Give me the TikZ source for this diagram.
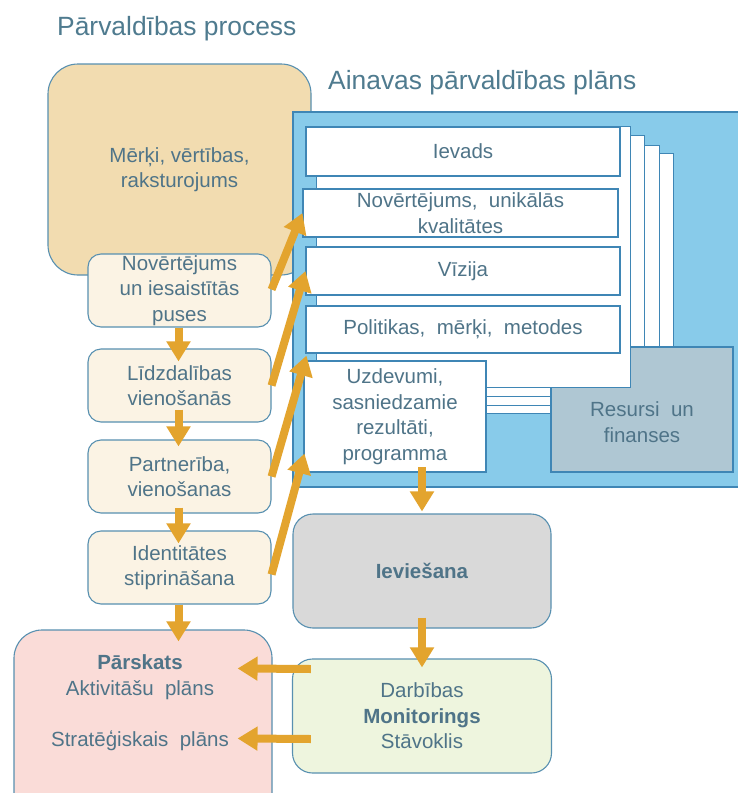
\documentclass[tikz,border=0pt]{standalone}
\usepackage{fontspec}
\setmainfont{Liberation Sans}
\usetikzlibrary{arrows.meta,calc}
\definecolor{txt}{HTML}{4F7488}
\definecolor{ttl}{HTML}{4F7B8F}
\definecolor{bord}{HTML}{5890B0}
\definecolor{bordb}{HTML}{3F86B5}
\definecolor{bluef}{HTML}{88CBEA}
\definecolor{tanf}{HTML}{F2DCB0}
\definecolor{creamf}{HTML}{FBF3E4}
\definecolor{grayf}{HTML}{D9D9D9}
\definecolor{greenf}{HTML}{EEF5DE}
\definecolor{pinkf}{HTML}{FADCD8}
\definecolor{resf}{HTML}{AFC7D3}
\definecolor{orng}{HTML}{E3A42E}
\newcommand\bodyfs{\fontsize{20.5}{25.5}\selectfont}
\newcommand\titlefs{\fontsize{26.4}{30}\selectfont}
\begin{document}
\begin{tikzpicture}[x=1pt,y=-1pt,
  txtc/.style={text=txt, font=\bodyfs, align=center, inner sep=0pt},
  rbox/.style={draw=bord, line width=1.1pt, rounded corners=#1, txtc},
  rbox/.default=12pt,
  lbox/.style={rbox=13pt, fill=creamf, minimum width=183pt, minimum height=73pt},
  sect/.style={draw=bordb, fill=white, line width=1.1pt, txtc},
  pagebox/.style={draw=bordb, fill=white, line width=0.8pt},
  arr/.style={draw=orng, line width=8pt, -{Triangle[width=23pt,length=20pt]}},
  ttlc/.style={text=ttl, font=\titlefs, inner sep=0pt, anchor=base west}
]
\useasboundingbox (0,0) rectangle (737,793);
\fill[white] (0,0) rectangle (737,793);

% titles
\node[ttlc] (title1) at (57,35) {Pārvaldības process};
\node[ttlc] (title2) at (328,89) {Ainavas pārvaldības plāns};

% goals box
\node[rbox=30pt, fill=tanf, minimum width=263pt, minimum height=211pt] (goals) at (179.5,169.5) {Mērķi, vērtības,\\raksturojums};

% blue plan panel
\node[draw=bordb, fill=bluef, line width=1.2pt, minimum width=450pt, minimum height=375pt, inner sep=0pt] (plan) at (518,299.5) {};

% back pages
\draw[pagebox] (328,153) rectangle (673,413);
\draw[pagebox] (324,145) rectangle (659,405);
\draw[pagebox] (320,135) rectangle (644,396);

% resources
\node[draw=bordb, fill=resf, line width=1.1pt, minimum width=182pt, minimum height=125pt, inner sep=0pt] (res) at (642,409.5) {};
\node[txtc] (restxt) at (642,422) {Resursi\ \ un\\finanses};

% main page
\draw[pagebox] (316,126) rectangle (630,387);

% sections
\node[sect, minimum width=314pt, minimum height=49pt] (intro) at (463,151.5) {Ievads};
\node[sect, minimum width=315pt, minimum height=48pt] (assess) at (460.5,213) {Novērtējums,\ \ unikālās\\kvalitātes};
\node[sect, minimum width=314pt, minimum height=48pt] (vision) at (463,271) {Vīzija};
\node[sect, minimum width=314pt, minimum height=47pt] (policy) at (463,329.5) {Politikas,\ \ mērķi,\ \ metodes};
\node[sect, minimum width=182pt, minimum height=111pt] (tasks) at (395,416.5) {Uzdevumi,\\sasniedzamie\\rezultāti,\\programma};

% left process boxes
\node[lbox] (s1) at (179.5,290.5) {Novērtējums\\un iesaistītās\\puses};
\node[lbox] (s2) at (179.5,385.5) {Līdzdalības\\vienošanās};
\node[lbox] (s3) at (179.5,476.5) {Partnerība,\\vienošanas};
\node[lbox] (s4) at (179.5,567.5) {Identitātes\\stiprināšana};

% implementation & monitoring
\node[rbox=20pt, fill=grayf, minimum width=258pt, minimum height=114pt] (impl) at (422,571) {\textbf{Ieviešana}};
\node[rbox=20pt, fill=greenf, minimum width=259pt, minimum height=114pt] (mon) at (422,716) {Darbības\\\textbf{Monitorings}\\Stāvoklis};

% review
\node[rbox=28pt, fill=pinkf, minimum width=258pt, minimum height=230pt] (rev) at (143,745) {};
\node[txtc] (revt1) at (140,677) {\textbf{Pārskats}\\Aktivitāšu\ \ plāns};
\node[txtc] (revt2) at (140,741) {Stratēģiskais\ \ plāns};

% down arrows on the left
\draw[arr] ($(s1.south)+(-1,0)$) -- ($(s2.north)+(-1,13)$);
\draw[arr] ($(s2.south)+(-1,-13)$) -- ($(s3.north)+(-1,7)$);
\draw[arr] ($(s3.south)+(-1,-6)$) -- ($(s4.north)+(-1,13)$);
\draw[arr] ($(s4.south)+(-1,0)$) -- ($(s4.south |- rev.north)+(-1,12)$);

% diagonal arrows
\draw[arr] ($(s1.east)+(0,-1)$) -- (assess.west);
\draw[arr] (s2.east) -- (vision.west);
\draw[arr] (s3.east) -- ($(policy.south west)+(1,2)$);
\draw[arr] ($(s4.east)+(0,7)$) -- ($(tasks.west)+(1,37)$);

% implementation chain
\draw[arr] ($(impl.north)+(0,-46)$) -- ($(impl.north)+(0,-2)$);
\draw[arr] ($(impl.south)+(0,-11)$) -- ($(mon.north)+(0,9)$);

% monitoring to review
\draw[arr] ($(mon.west)+(19,-47)$) -- ($(rev.north east)+(-35,39)$);
\draw[arr] ($(mon.west)+(19,23)$) -- ($(rev.north east)+(-35,109)$);
\end{tikzpicture}
\end{document}
